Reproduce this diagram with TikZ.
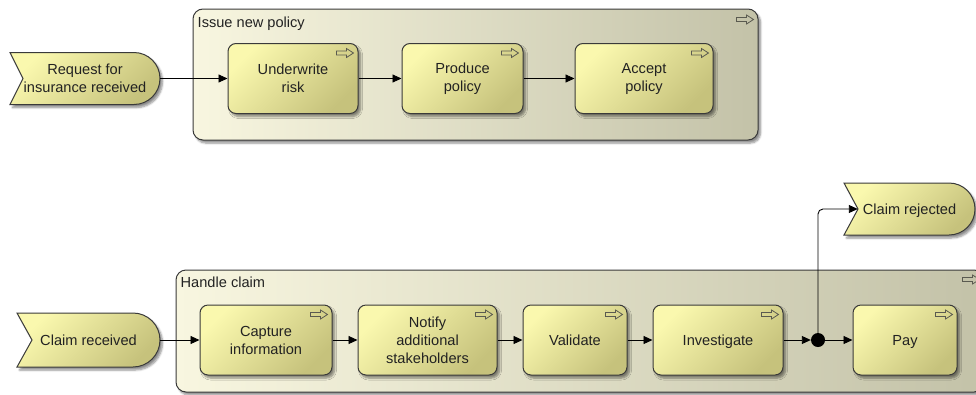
\documentclass[tikz,border=0pt]{standalone}
\usepackage{fontspec}
\setmainfont{Liberation Sans}
\usetikzlibrary{arrows.meta,shadows.blur}

\definecolor{boxlight}{HTML}{FAF8AE}
\definecolor{boxdark}{HTML}{C6C27C}
\definecolor{grplight}{HTML}{F8F6E0}
\definecolor{grpdark}{HTML}{C3C2A8}
\definecolor{edgegray}{HTML}{3A3A3A}
\definecolor{icongray}{HTML}{5A5A50}
\definecolor{txt}{HTML}{222222}

% one-line label centred on its capital height
\newcommand\capline[1]{\vrule height10.5pt depth0pt width0pt\smash{#1}}

\tikzset{
  softshadow/.style={blur shadow={shadow xshift=2.5pt, shadow yshift=-3pt,
      shadow blur steps=6, shadow opacity=45, shadow blur radius=2pt}},
  shadebox/.style={top color=boxlight, bottom color=boxdark, shading angle=45},
  labelfont/.style={font=\fontsize{14.6}{18}\selectfont},
  task/.style={draw=edgegray, line width=1pt, rounded corners=8pt, shadebox,
      softshadow, align=center, inner sep=2pt, text=txt, labelfont},
  group/.style={draw=edgegray, line width=1pt, rounded corners=10pt,
      left color=grplight, right color=grpdark, softshadow},
  evtshape/.style={draw=edgegray, line width=1pt, shadebox, softshadow},
  evtlabel/.style={inner sep=0pt, align=center, text=txt, labelfont},
  grplabel/.style={anchor=north west, inner sep=0pt, text=txt, labelfont},
  flow/.style={line width=0.9pt, draw=black, -{Triangle[length=9pt,width=8pt]}},
  junction/.style={circle, fill=black, inner sep=0pt, minimum size=14pt},
  pics/actarrow/.style={code={
      \draw[icongray, line width=0.8pt, line join=miter]
        (0,-2) -- (10,-2) -- (10,-4.5) -- (17,0) -- (10,4.5) -- (10,2) -- (0,2) -- cycle;}}
}

\begin{document}
\begin{tikzpicture}[x=1pt,y=-1pt]
  \useasboundingbox (0,0) rectangle (976,394);

  % ---------- Issue new policy ----------
  \node[group, minimum width=565pt, minimum height=131pt] (g1) at (475.5,74.5) {};
  \node[grplabel] (g1lbl) at ([xshift=5pt,yshift=-8pt]g1.north west) {Issue new policy};
  \pic at ([xshift=-22pt,yshift=-11pt]g1.north east) {actarrow};

  \draw[evtshape] (10,52.5) -- (134,52.5) arc[start angle=-90, end angle=90, radius=26]
    -- (10,104.5) -- (23,78.5) -- cycle;
  \node[evtlabel, minimum width=150pt, minimum height=52pt] (req) at (85,78.5)
    {Request for\\insurance received};

  \node[task, minimum width=130pt, minimum height=70pt] (uw) at (293,78.5) {Underwrite\\risk};
  \node[task, minimum width=121pt, minimum height=70pt] (pp) at (462.5,78.5) {Produce\\policy};
  \node[task, minimum width=138pt, minimum height=70pt] (ap) at (644,78.5) {Accept\\policy};
  \foreach \n in {uw,pp,ap}
    \pic at ([xshift=-22pt,yshift=-10pt]\n.north east) {actarrow};

  \draw[flow] (req.east) -- (uw.west);
  \draw[flow] (uw.east) -- (pp.west);
  \draw[flow] (pp.east) -- (ap.west);

  % ---------- Handle claim ----------
  \node[group, minimum width=808pt, minimum height=122pt] (g2) at (580,331) {};
  \node[grplabel] (g2lbl) at ([xshift=5pt,yshift=-7pt]g2.north west) {Handle claim};
  \pic at ([xshift=-22pt,yshift=-10pt]g2.north east) {actarrow};

  \draw[evtshape] (17,313) -- (133,313) arc[start angle=-90, end angle=90, radius=27]
    -- (17,367) -- (32,340) -- cycle;
  \node[evtlabel, minimum width=143pt, minimum height=54pt] (cr) at (88.5,340) {\capline{Claim received}};

  \draw[evtshape] (844,183) -- (949,183) arc[start angle=-90, end angle=90, radius=26]
    -- (844,235) -- (858,209) -- cycle;
  \node[evtlabel, minimum width=131pt, minimum height=52pt] (rej) at (909.5,209) {\capline{Claim rejected}};

  \node[task, minimum width=132pt, minimum height=70pt] (cap) at (266,340) {Capture\\information};
  \node[task, minimum width=139pt, minimum height=70pt] (nas) at (427.5,340) {Notify\\additional\\stakeholders};
  \node[task, minimum width=104pt, minimum height=70pt] (val) at (575,340) {\capline{Validate}};
  \node[task, minimum width=130pt, minimum height=70pt] (inv) at (718,340) {\capline{Investigate}};
  \node[task, minimum width=104pt, minimum height=70pt] (pay) at (905,340) {\capline{Pay}};
  \foreach \n in {cap,nas,val,inv,pay}
    \pic at ([xshift=-22pt,yshift=-10pt]\n.north east) {actarrow};

  \node[junction] (j) at (818,340) {};

  \draw[flow] (cr.east) -- (cap.west);
  \draw[flow] (cap.east) -- (nas.west);
  \draw[flow] (nas.east) -- (val.west);
  \draw[flow] (val.east) -- (inv.west);
  \draw[flow] (inv.east) -- (j.west);
  \draw[flow] (j.east) -- (pay.west);
  \draw[flow, rounded corners=5pt] (j.north) |- ([xshift=14pt]rej.west);
\end{tikzpicture}
\end{document}
